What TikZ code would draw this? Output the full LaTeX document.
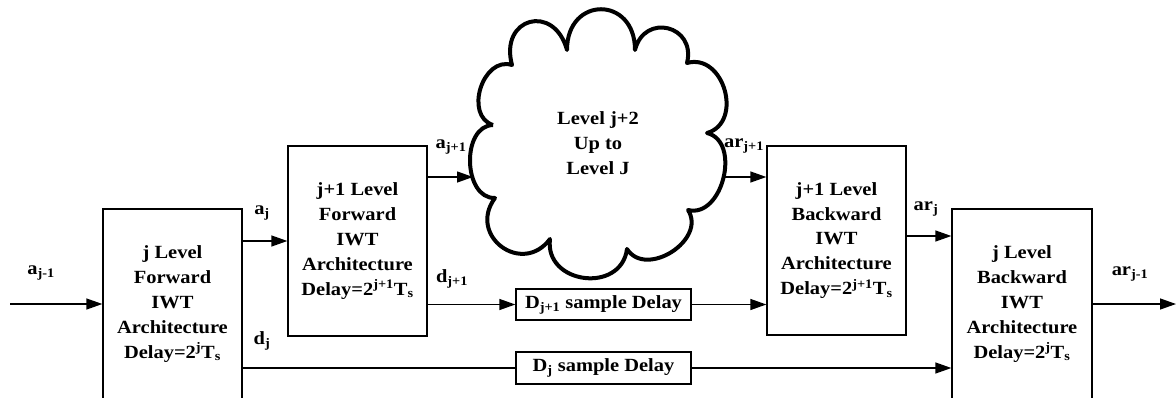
\documentclass[tikz,border=0pt]{standalone}
\usepackage{fontspec}
\setmainfont{Liberation Serif}[FakeStretch=1.1]
\usetikzlibrary{arrows.meta,calc}
\tikzset{
  txt/.style={font=\fontsize{18.6}{24.8}\selectfont\bfseries, align=center, inner sep=0pt},
  blockbox/.style={txt, draw, line width=1.3pt, minimum width=139pt, minimum height=190pt},
  delaybox/.style={txt, draw, line width=1.3pt, minimum width=175pt, minimum height=31pt},
  lbl/.style={txt},
  conn/.style={line width=1.3pt},
  arr/.style={conn, -{Triangle[length=16pt,width=11pt]}},
  cloudline/.style={line width=4pt, line join=round},
}
\begin{document}
\begin{tikzpicture}[x=1pt,y=-1pt]
\useasboundingbox (0,0) rectangle (1176,397);
\begin{scope}
\clip (0,0) rectangle (1176,397);
% blocks
\node[blockbox] (b1) at (172.5,304) {j Level\\Forward\\IWT\\Architecture\\Delay=2\textsuperscript{j}T\textsubscript{s}};
\node[blockbox] (b2) at (357.5,241) {j+1 Level\\Forward\\IWT\\Architecture\\Delay=2\textsuperscript{j+1}T\textsubscript{s}};
\node[blockbox, minimum height=189pt] (b3) at (836.5,240.5) {j+1 Level\\Backward\\IWT\\Architecture\\Delay=2\textsuperscript{j+1}T\textsubscript{s}};
\node[blockbox, minimum width=140pt] (b4) at (1022,304) {j Level\\Backward\\IWT\\Architecture\\Delay=2\textsuperscript{j}T\textsubscript{s}};
\node[delaybox] (dj1) at (603.5,304.5) {D\textsubscript{j+1} sample Delay};
\node[delaybox, minimum height=32pt] (dj) at (603.5,368) {D\textsubscript{j} sample Delay};
% cloud
\draw[cloudline] (493,125) to[bend left=90,looseness=1.25] (512,65)
  to[bend left=90,looseness=2.2] (567,50)
  to[bend left=90,looseness=2.05] (635,50)
  to[bend left=90,looseness=1.85] (687,63)
  to[bend left=90,looseness=1.35] (707,133)
  to[bend left=90,looseness=1.15] (688,210)
  to[bend left=90,looseness=1.25] (627,249)
  to[bend left=90,looseness=1.5] (550,239)
  to[bend left=90,looseness=1.75] (495,198)
  to[bend left=90,looseness=1.12] (493,125);
\node[txt] (cloud) at (598,143) {Level j+2\\Up to\\Level J};
\coordinate (cloudL) at (473,177);
\coordinate (cloudR) at (723,177);
\coordinate (in) at (10,304);
\coordinate (out) at (1176,304);
\coordinate (arj) at (930,236);
% connectors
\draw[arr] (in) -- (b1.west);
\draw[arr] (b1.east |- b2.west) -- (b2.west);
\draw[conn] (b1.east |- dj.west) -- (dj.west);
\draw[arr] (dj.east) -- (dj.east -| b4.west);
\draw[arr] (b2.east |- cloudL) -- (cloudL);
\draw[arr] (b2.east |- dj1.west) -- (dj1.west);
\draw[arr] (dj1.east) -- (dj1.east -| b3.west);
\draw[arr] (cloudR) -- (cloudR -| b3.west);
\draw[arr] (b3.east |- arj) -- (arj -| b4.west);
\draw[arr] (b4.east) -- (out);
% labels
\node[lbl] (la0) at (41,273) {a\textsubscript{j-1}};
\node[lbl] (la1) at (262,213) {a\textsubscript{j}};
\node[lbl] (ld1) at (262,341) {d\textsubscript{j}};
\node[lbl] (la2) at (451,147) {a\textsubscript{j+1}};
\node[lbl] (ld2) at (452,279) {d\textsubscript{j+1}};
\node[lbl] (lr2) at (744,146) {ar\textsubscript{j+1}};
\node[lbl] (lr1) at (926,209) {ar\textsubscript{j}};
\node[lbl] (lr0) at (1130,274) {ar\textsubscript{j-1}};
\end{scope}
\end{tikzpicture}
\end{document}
